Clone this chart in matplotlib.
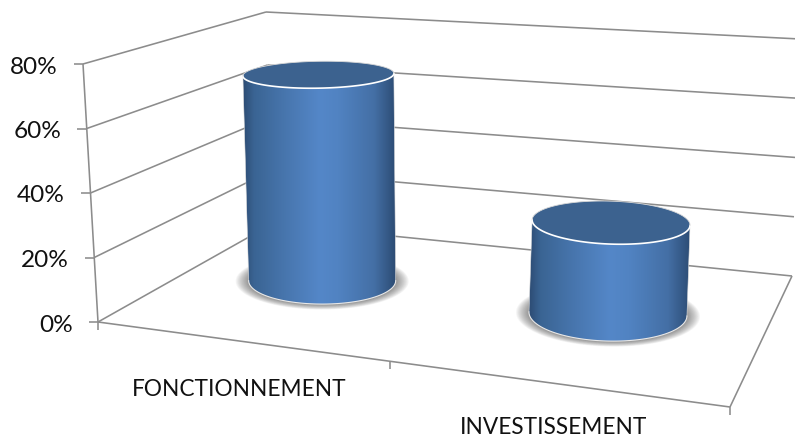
import numpy as np
import matplotlib
matplotlib.use("Agg")
import matplotlib.pyplot as plt
from matplotlib.colors import LinearSegmentedColormap
from matplotlib.patches import PathPatch, Polygon
from matplotlib.path import Path

# --- Chart data ---
categories = ["FONCTIONNEMENT", "INVESTISSEMENT"]
shares = [0.70, 0.30]
value_ticks = [0.0, 0.2, 0.4, 0.6, 0.8]
tick_labels = ["0%", "20%", "40%", "60%", "80%"]

# --- 3D box corners in figure pixels (bottom and top of each vertical edge) ---
FL = ((98, 322), (83, 64))
FR = ((730, 407), (755, 144))
BL = ((272, 224), (266, 12))
BR = ((792, 276), (800, 39))
V_MAX = 0.8

# --- Cylinder layout ---
BAR_U = [0.22, 0.723]
BAR_D = 0.57
RADIUS_BASE = 0.222
RADIUS_TOP = 0.195
SEMI_WIDTH = [(73.5, 75.5), (79, 79)]   # bottom, top
TILT = [(0.0, -1.0), (1.5, 2.0)]        # bottom, top, in degrees

LINE = "#8c8c8c"
LABEL_FONT = "Lato"


def project(u, d, v):
    """Trilinear map: u along categories, d into the depth, v the value."""
    w = v / V_MAX
    pts = []
    for edge in (FL, FR, BL, BR):
        pts.append((1 - w) * np.array(edge[0], float) + w * np.array(edge[1], float))
    front = (1 - u) * pts[0] + u * pts[1]
    back = (1 - u) * pts[2] + u * pts[3]
    return (1 - d) * front + d * back


def depth_span(u, v):
    return project(u, 0, v)[1] - project(u, 1, v)[1]


def ellipse_xy(center, a, b, tilt, t):
    x = a * np.cos(t)
    y = b * np.sin(t)
    r = np.radians(tilt)
    return center[0] + x * np.cos(r) - y * np.sin(r), center[1] + x * np.sin(r) + y * np.cos(r)


def draw_line(ax, p, q, **kw):
    ax.plot([p[0], q[0]], [p[1], q[1]], color=LINE, lw=1.15, solid_capstyle="butt", zorder=2, **kw)


def draw_frame(ax):
    for v, label in zip(value_ticks, tick_labels):
        left = project(0, 0, v)
        corner = project(0, 1, v)
        right = project(1, 1, v)
        draw_line(ax, left, corner)
        draw_line(ax, corner, right)
        draw_line(ax, left, left - np.array([9.5, 0]))
        ax.text(left[0] - 25.5, left[1] + 3, label, ha="right", va="center",
                fontsize=17.6, family=LABEL_FONT, color="#111111")
    draw_line(ax, project(0, 0, 0), project(0, 0, V_MAX))
    draw_line(ax, project(0, 0, 0), project(1, 0, 0))
    draw_line(ax, project(1, 0, 0), project(1, 1, 0))
    for u in (0, 0.462, 1):
        p = project(u, 0, 0)
        draw_line(ax, p, p + np.array([0, 8]))


def draw_cylinder(ax, idx, value):
    u = BAR_U[idx]
    base = project(u, BAR_D, 0)
    top = project(u, BAR_D, value)
    a_b, a_t = SEMI_WIDTH[idx]
    b_b = RADIUS_BASE * depth_span(u, 0)
    b_t = RADIUS_TOP * depth_span(u, value)
    tilt_b, tilt_t = TILT[idx]

    # soft shadow on the floor
    steps = 16
    for k in range(steps):
        grow = (1 - k / steps) ** 1.2
        t = np.linspace(0, 2 * np.pi, 120)
        x, y = ellipse_xy(base + np.array([0, 0.5]), a_b + 13 * grow, b_b + 5 * grow, tilt_b, t)
        ax.add_patch(Polygon(np.column_stack([x, y]), closed=True, fc="#606060", ec="none",
                             alpha=0.06, zorder=3))

    # body outline: down the left, round the base, up the right, back along the cap front
    t_low = np.linspace(np.pi, 0, 100)
    bx, by = ellipse_xy(base, a_b, b_b, tilt_b, t_low)
    t_cap = np.linspace(0, np.pi, 100)
    cx, cy = ellipse_xy(top, a_t, b_t, tilt_t, t_cap)
    outline = np.column_stack([np.r_[cx[-1], bx, cx], np.r_[cy[-1], by, cy]])

    stops = [(0.0, "#2d4c74"), (0.07, "#3a6493"), (0.28, "#4876ae"), (0.50, "#5487c8"),
             (0.62, "#5183c2"), (0.86, "#446fa5"), (0.97, "#31537e"), (1.0, "#2d4c74")]
    cmap = LinearSegmentedColormap.from_list("cyl", stops)
    x0, x1 = outline[:, 0].min(), outline[:, 0].max()
    y0, y1 = outline[:, 1].min(), outline[:, 1].max()
    img = ax.imshow(np.linspace(0, 1, 256)[None, :], cmap=cmap, aspect="auto",
                    extent=(x0, x1, y1, y0), zorder=4, interpolation="bilinear")
    clip = PathPatch(Path(outline), transform=ax.transData, fc="none", ec="none")
    ax.add_patch(clip)
    img.set_clip_path(clip)
    ax.plot(bx, by, color="#e8e8e8", lw=0.8, zorder=5)
    ax.plot([bx[-1], cx[0]], [by[-1], cy[0]], color="#dddddd", lw=0.4, zorder=5)
    ax.plot([bx[0], cx[-1]], [by[0], cy[-1]], color="#dddddd", lw=0.4, zorder=5)

    # flat cap
    t = np.linspace(0, 2 * np.pi, 200)
    x, y = ellipse_xy(top, a_t, b_t, tilt_t, t)
    ax.add_patch(Polygon(np.column_stack([x, y]), closed=True, fc="#3c628f", ec="none", zorder=6))
    ax.plot(cx, cy, color="white", lw=1.2, zorder=7)
    back_x, back_y = ellipse_xy(top, a_t, b_t, tilt_t, np.linspace(np.pi, 2 * np.pi, 100))
    ax.plot(back_x, back_y, color="#d8d8d8", lw=0.6, zorder=7)


fig = plt.figure(figsize=(7.95, 4.37), dpi=100, facecolor="white")
ax = fig.add_axes([0, 0, 1, 1])

draw_frame(ax)
for i, share in enumerate(shares):
    draw_cylinder(ax, i, share)

ax.text(239, 390, categories[0], ha="center", va="center", fontsize=16.3, family=LABEL_FONT, color="#111111")
ax.text(554, 428, categories[1], ha="center", va="center", fontsize=16.3, family=LABEL_FONT, color="#111111")

ax.set_xlim(0, 795)
ax.set_ylim(437, 0)
ax.axis("off")

fig.savefig("out.png", dpi=100)
